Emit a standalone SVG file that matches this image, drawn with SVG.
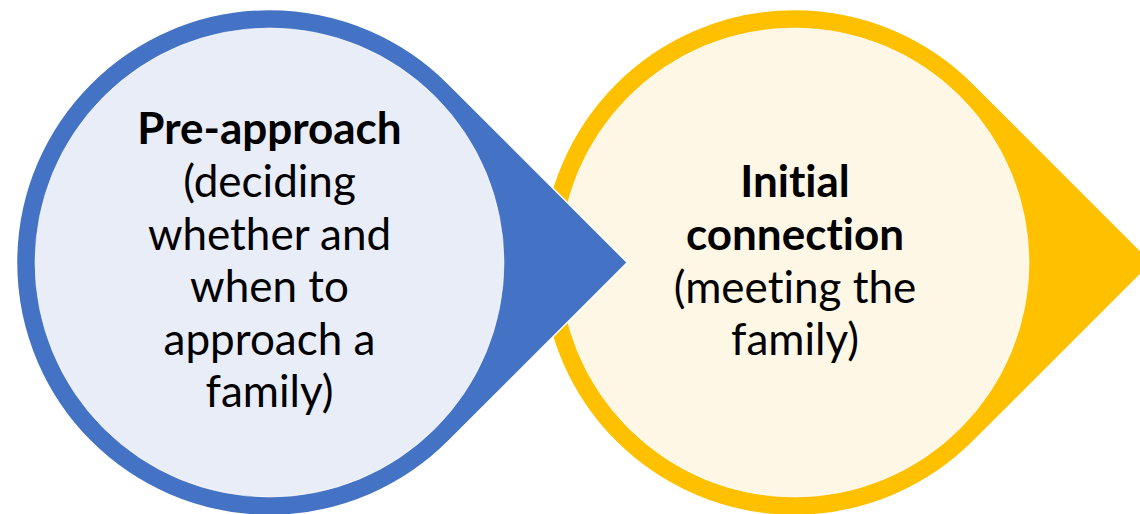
<svg xmlns="http://www.w3.org/2000/svg" width="1140" height="514" viewBox="0 0 1140 514">
  <style>
    .drop { stroke: #ffffff; stroke-width: 1.5; stroke-linejoin: miter; }
    .blue { fill: #4472C4; }
    .gold { fill: #FFC000; }
    .inner { stroke: #ffffff; stroke-width: 1; stroke-opacity: 0.6; }
    .blue-in { fill: #E9EDF7; }
    .gold-in { fill: #FFF7E6; }
    text { font-family: Lato, "Liberation Sans", sans-serif; font-size: 44px; fill: #000000; text-anchor: middle; font-variant-ligatures: none; }
    .b { font-weight: bold; }
  </style>
  <rect width="1140" height="514" fill="#ffffff"/>

  <!-- stage 2: teardrop pointing right, drawn first so stage 1 overlaps it -->
  <g id="initial-connection">
    <path class="drop gold" d="M 973.4 83.6 L 1152.3 262.5 L 973.4 441.4 A 253 253 0 1 1 973.4 83.6 Z"/>
    <circle class="inner gold-in" cx="794.5" cy="262.5" r="234.5"/>
    <text class="b" x="795" y="197">Initial</text>
    <text class="b" x="795" y="250">connection</text>
    <text x="795" y="303">(meeting the</text>
    <text x="795" y="355">family)</text>
  </g>

  <!-- stage 1 -->
  <g id="pre-approach">
    <path class="drop blue" d="M 448.4 83.6 L 627.3 262.5 L 448.4 441.4 A 253 253 0 1 1 448.4 83.6 Z"/>
    <circle class="inner blue-in" cx="269.5" cy="262.5" r="234.5"/>
    <text class="b" x="269.5" y="144">Pre-approach</text>
    <text x="269.5" y="197">(deciding</text>
    <text x="269.5" y="250">whether and</text>
    <text x="269.5" y="302">when to</text>
    <text x="269.5" y="355">approach a</text>
    <text x="269.5" y="407">family)</text>
  </g>
</svg>
